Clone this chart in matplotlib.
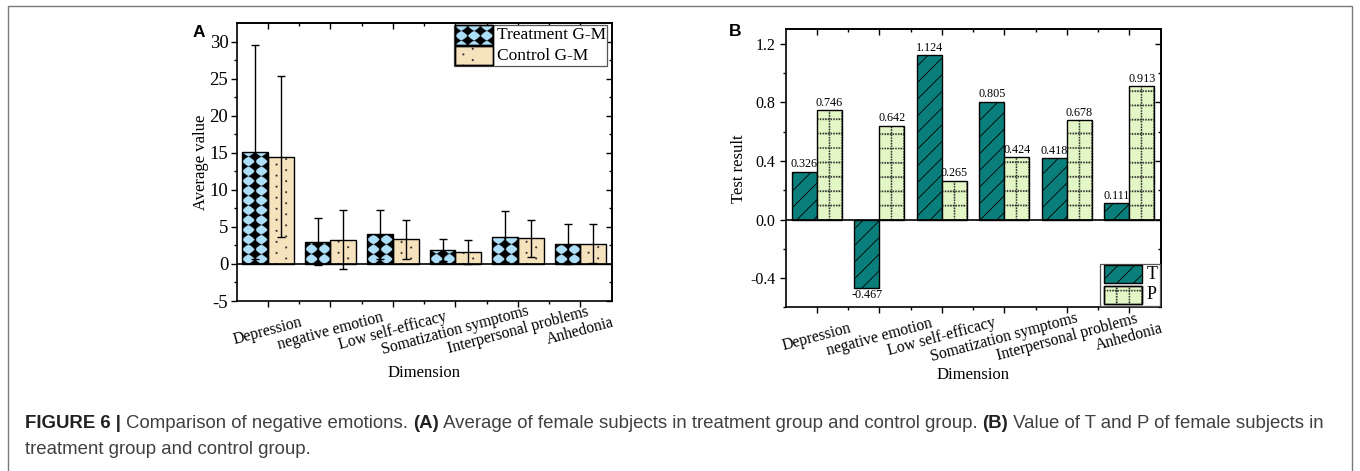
import numpy as np
import matplotlib
matplotlib.use('Agg')
import matplotlib.pyplot as plt
from matplotlib.patches import Rectangle
from matplotlib.colors import to_rgb
from matplotlib.ticker import FixedLocator, NullFormatter, FormatStrFormatter

# ---------------- data ----------------
categories = ['Depression', 'negative emotion', 'Low self-efficacy',
              'Somatization symptoms', 'Interpersonal problems', 'Anhedonia']
treat_mean = [15.15, 3.0, 4.0, 1.9, 3.7, 2.7]
treat_sd = [14.45, 3.2, 3.3, 1.5, 3.45, 2.7]
ctrl_mean = [14.5, 3.3, 3.35, 1.6, 3.45, 2.75]
ctrl_sd = [10.9, 3.95, 2.63, 1.6, 2.47, 2.6]
t_values = [0.326, -0.467, 1.124, 0.805, 0.418, 0.111]
p_values = [0.746, 0.642, 0.265, 0.424, 0.678, 0.913]
a_yticks = [-5, 0, 5, 10, 15, 20, 25, 30]
b_yticks = [-0.4, 0.0, 0.4, 0.8, 1.2]
legend_a = ['Treatment G-M', 'Control G-M']
legend_b = ['T', 'P']

# ---------------- style ----------------
plt.rcParams['font.family'] = ['Liberation Serif', 'DejaVu Serif']
plt.rcParams['axes.unicode_minus'] = False
plt.rcParams['hatch.linewidth'] = 0.6

BLUE = '#aedff8'
WHEAT = '#f6e2bd'
TEAL = '#0a7e7a'
PALE = '#e3f6c5'

W, H = 1360, 471
fig = plt.figure(figsize=(W / 100, H / 100), dpi=100)


def fig_rect(l, t, r, b):
    return [l / W, 1 - b / H, (r - l) / W, (b - t) / H]


axA = fig.add_axes(fig_rect(236.7, 23.3, 611.7, 301.0))
axB = fig.add_axes(fig_rect(785.7, 29.3, 1160.5, 307.3))

# outer frame of the figure panel
fig.add_artist(Rectangle((8 / W, -0.05), (1352 - 8) / W, 1 - 6 / H + 0.05,
                         transform=fig.transFigure, fill=False,
                         edgecolor='#7a7a7a', linewidth=1.0))

x = np.arange(len(categories))
bounds = x[:-1] + 0.5


def style_axes(ax, ylim, yticks, yminor, fmt, ypad, ysize):
    ax.set_xlim(-0.5, len(categories) - 0.5)
    ax.set_ylim(*ylim)
    ax.set_xticks(x)
    ax.set_xticklabels(categories, rotation=15, ha='center', va='center',
                       rotation_mode='anchor', fontsize=11.3)
    ax.xaxis.set_minor_locator(FixedLocator(bounds))
    ax.set_yticks(yticks)
    ax.yaxis.set_major_formatter(FormatStrFormatter(fmt))
    ax.yaxis.set_minor_locator(FixedLocator(yminor))
    for lab in ax.get_yticklabels():
        lab.set_fontsize(ysize)
    ax.tick_params(axis='both', which='major', direction='out', length=4.5, width=1.0)
    ax.tick_params(axis='both', which='minor', direction='out', length=2.5, width=1.0)
    ax.tick_params(axis='x', which='major', pad=17)
    ax.tick_params(axis='y', pad=ypad)
    for s in ax.spines.values():
        s.set_linewidth(1.2)
    top = ax.secondary_xaxis('top')
    top.xaxis.set_major_locator(FixedLocator(x))
    top.xaxis.set_minor_locator(FixedLocator(bounds))
    top.xaxis.set_major_formatter(NullFormatter())
    top.tick_params(axis='x', which='major', direction='in', length=4, width=1.0)
    top.tick_params(axis='x', which='minor', direction='in', length=2.5, width=1.0)
    top.spines['top'].set_linewidth(1.2)
    right = ax.secondary_yaxis('right')
    right.yaxis.set_major_locator(FixedLocator(yticks))
    right.yaxis.set_minor_locator(FixedLocator(yminor))
    right.yaxis.set_major_formatter(NullFormatter())
    right.tick_params(axis='y', which='major', direction='in', length=4, width=1.0)
    right.tick_params(axis='y', which='minor', direction='in', length=2.5, width=1.0)
    right.spines['right'].set_linewidth(1.2)


A_LIM = (-5, 32.5)
B_LIM = (-0.6, 1.3)
style_axes(axA, A_LIM, a_yticks, np.arange(-2.5, 32.5, 5.0), '%d', 1.5, 13.5)
style_axes(axB, B_LIM, b_yticks, np.arange(-0.6, 1.3, 0.4), '%.1f', 3, 11.5)


# ---------------- pattern textures ----------------
def texture_mask(kind, U, V, wpx):
    if kind == 'diamond':
        px = wpx / 2.0
        py = 9.7
        du = np.abs(U - np.round(U / px) * px) / (0.53 * px)
        dv = np.abs(V - np.round(V / py) * py) / (0.56 * py)
        return ((du ** 0.8 + dv ** 0.8) <= 1).astype(float)
    if kind == 'dots':
        period = 11.0
        r = 1.0
        m = np.zeros_like(U)
        for frac, off in ((0.33, 0.0), (0.70, period / 2)):
            cx = frac * wpx
            dv = np.abs(((V - off + period / 2) % period) - period / 2)
            d = np.hypot(U - cx, dv)
            m = np.maximum(m, (d <= r).astype(float))
        return m
    if kind == 'grid':
        px = wpx / 2.0
        py = 14.3
        step, dot, half = 2.7, 1.6, 0.85
        du = np.abs(U - np.round(U / px) * px)
        dv = np.abs(V - np.round(V / py) * py)
        vline = (du <= half) & ((V % step) < dot)
        hline = (dv <= half) & ((U % step) < dot)
        return (vline | hline).astype(float)
    return np.zeros_like(U)


def add_texture(ax, rect, kind, color, wpx, zorder):
    x0, y0 = rect.get_x(), rect.get_y()
    x1, y1 = x0 + rect.get_width(), y0 + rect.get_height()
    ylo, yhi = min(y0, y1), max(y0, y1)
    (px0, py0), (px1, py1) = ax.transData.transform([(x0, ylo), (x1, yhi)])
    ss = 4
    nx = max(int(np.ceil((px1 - px0) * ss)), 2)
    ny = max(int(np.ceil((py1 - py0) * ss)), 2)
    pz = ax.transData.transform([(0, 0)])[0][1]
    u = (np.arange(nx) + 0.5) / ss
    v = (py0 - pz) + (np.arange(ny) + 0.5) / ss
    U, V = np.meshgrid(u, v)
    mask = texture_mask(kind, U, V, wpx)
    rgba = np.zeros((ny, nx, 4))
    rgba[..., :3] = to_rgb(color)
    rgba[..., 3] = mask
    im = ax.imshow(rgba, extent=(x0, x1, ylo, yhi), origin='lower',
                   aspect='auto', interpolation='antialiased', zorder=zorder)
    im.set_clip_path(rect)
    return im


def bar_px_width(ax, w):
    a, b = ax.transData.transform([(0, 0), (w, 0)])
    return b[0] - a[0]


# ---------------- Panel A ----------------
w = 0.41
wA = bar_px_width(axA, w)
tb = axA.bar(x - w / 2, treat_mean, w, color=BLUE, edgecolor='none', zorder=2)
cb = axA.bar(x + w / 2, ctrl_mean, w, color=WHEAT, edgecolor='none', zorder=2)
for r in tb.patches:
    add_texture(axA, r, 'diamond', 'black', wA, 2.1)
for r in cb.patches:
    add_texture(axA, r, 'dots', '#222222', wA, 2.1)
axA.bar(x - w / 2, treat_mean, w, fill=False, edgecolor='black', linewidth=1.0, zorder=2.2)
axA.bar(x + w / 2, ctrl_mean, w, fill=False, edgecolor='black', linewidth=1.0, zorder=2.2)
axA.errorbar(x - w / 2, treat_mean, yerr=treat_sd, fmt='none', ecolor='black',
             elinewidth=1.0, capsize=3, capthick=1.0, zorder=4)
axA.errorbar(x + w / 2, ctrl_mean, yerr=ctrl_sd, fmt='none', ecolor='black',
             elinewidth=1.0, capsize=3, capthick=1.0, zorder=4)
axA.axhline(0, color='black', linewidth=1.2, zorder=3)
axA.set_ylabel('Average value', fontsize=12)
axA.yaxis.set_label_coords(-0.0743, 0.5)
axA.set_xlabel('Dimension', fontsize=12)
axA.xaxis.set_label_coords(0.5, -0.232)

# ---------------- Panel B ----------------
w = 0.40
wB = bar_px_width(axB, w)
tbar = axB.bar(x - w / 2, t_values, w, color=TEAL, edgecolor='black',
               hatch='//', linewidth=1.0, zorder=2)
pbar = axB.bar(x + w / 2, p_values, w, color=PALE, edgecolor='none', zorder=2)
for r in pbar.patches:
    add_texture(axB, r, 'grid', '#262626', wB, 2.1)
axB.bar(x + w / 2, p_values, w, fill=False, edgecolor='black', linewidth=1.0, zorder=2.2)
axB.axhline(0, color='black', linewidth=1.2, zorder=3)
for bars, vals in ((tbar, t_values), (pbar, p_values)):
    for r, v in zip(bars.patches, vals):
        cx = r.get_x() + r.get_width() / 2
        axB.annotate(f'{v:.3f}', (cx, v), xytext=(0, 1 if v >= 0 else -1),
                     textcoords='offset points', ha='center',
                     va='bottom' if v >= 0 else 'top', fontsize=8.7, zorder=5)
axB.set_ylabel('Test result', fontsize=12)
axB.yaxis.set_label_coords(-0.103, 0.5)
axB.set_xlabel('Dimension', fontsize=12)
axB.xaxis.set_label_coords(0.5, -0.214)


# ---------------- legends (drawn manually to carry the textures) -----------
def px_to_data(ax, px, py):
    return ax.transData.inverted().transform((px, H - py))


def manual_legend(ax, frame, entries, size):
    (fx0, fy0, fx1, fy1) = frame
    d0 = px_to_data(ax, fx0, fy1)
    d1 = px_to_data(ax, fx1, fy0)
    ax.add_patch(Rectangle(d0, d1[0] - d0[0], d1[1] - d0[1], facecolor='white',
                           edgecolor='#555555', linewidth=0.9, zorder=6, clip_on=False))
    for (hx0, hy0, hx1, hy1, face, kind, label, tx) in entries:
        a0 = px_to_data(ax, hx0, hy1)
        a1 = px_to_data(ax, hx1, hy0)
        kw = {}
        if kind == 'hatch':
            kw = dict(hatch='//')
        rect = Rectangle(a0, a1[0] - a0[0], a1[1] - a0[1], facecolor=face,
                         edgecolor='black', linewidth=1.0, zorder=7, clip_on=False, **kw)
        ax.add_patch(rect)
        if kind != 'hatch':
            col = 'black' if kind == 'diamond' else ('#222222' if kind == 'dots' else '#262626')
            add_texture(ax, rect, kind, col, (hx1 - hx0) * 0.67, 7.1)
            ax.add_patch(Rectangle(a0, a1[0] - a0[0], a1[1] - a0[1], fill=False,
                                   edgecolor='black', linewidth=1.0, zorder=7.2, clip_on=False))
        fig.text(tx / W, 1 - ((hy0 + hy1) / 2) / H, label, va='center', ha='left',
                 fontsize=size, zorder=10)


manual_legend(axA, (454, 24.7, 606.7, 65.7), [
    (455.3, 25.3, 493.3, 45.3, BLUE, 'diamond', legend_a[0], 497),
    (455.3, 46.0, 493.3, 65.3, WHEAT, 'dots', legend_a[1], 497),
], 12.5)
manual_legend(axB, (1100, 264.3, 1160.5, 305.7), [
    (1104, 265.3, 1141.7, 283.3, TEAL, 'hatch', legend_b[0], 1147),
    (1104, 285.7, 1141.7, 304.0, PALE, 'grid', legend_b[1], 1147),
], 13)

# panel letters
fig.text(199 / W, 1 - 32.5 / H, 'A', fontfamily='Liberation Sans', fontweight='bold',
         fontsize=12.5, ha='center', va='center')
fig.text(735 / W, 1 - 31 / H, 'B', fontfamily='Liberation Sans', fontweight='bold',
         fontsize=12.5, ha='center', va='center')

# ---------------- caption ----------------
line1 = [('FIGURE 6 | ', 'bold', '#222222'),
         ('Comparison of negative emotions. ', 'normal', '#404040'),
         ('(A)', 'bold', '#222222'),
         (' Average of female subjects in treatment group and control group. ', 'normal', '#404040'),
         ('(B)', 'bold', '#222222'),
         (' Value of T and P of female subjects in', 'normal', '#404040')]
line2 = [('treatment group and control group.', 'normal', '#404040')]

renderer = fig.canvas.get_renderer()


def place_line(pieces, y_px, size):
    xpos = 25.0
    for txt, wt, col in pieces:
        t = fig.text(xpos / W, 1 - y_px / H, txt, fontfamily='Liberation Sans',
                     fontweight=wt, color=col, fontsize=size, va='center', ha='left')
        xpos += t.get_window_extent(renderer).width
    return xpos


probe = [fig.text(0, 0, p[0], fontfamily='Liberation Sans', fontweight=p[1], fontsize=10)
         for p in line1]
total = sum(t.get_window_extent(renderer).width for t in probe)
for t in probe:
    t.remove()
cap_size = 10 * (1335 - 25) / total
place_line(line1, 424, cap_size)
place_line(line2, 450, cap_size)

fig.savefig('out.png', dpi=100)
